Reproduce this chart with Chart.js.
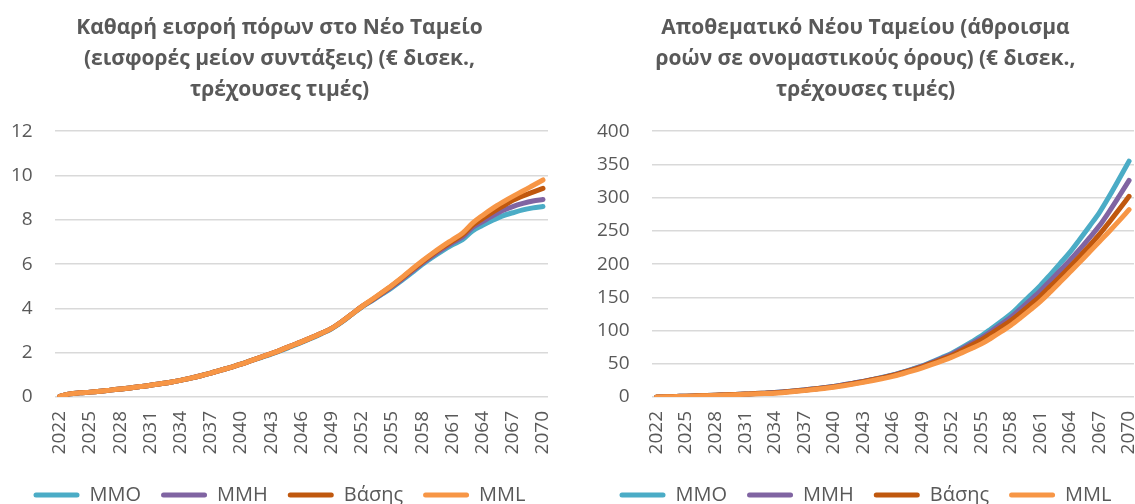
<!DOCTYPE html>
<html>
<head>
<meta charset="utf-8">
<script src="https://cdn.jsdelivr.net/npm/chart.js"></script>
<style>
  html, body { margin: 0; padding: 0; background: #fff; overflow: hidden; }
  body { width: 1135px; height: 504px; position: relative; }
  canvas { position: absolute; top: 0; }
  #left { left: 0; }
  #right { left: 586px; }
</style>
</head>
<body>
<canvas id="left" width="567" height="515"></canvas>
<canvas id="right" width="567" height="515"></canvas>
<script>
// years on the category axis
const years = ['2022','2023','2024','2025','2026','2027','2028','2029','2030','2031',
  '2032','2033','2034','2035','2036','2037','2038','2039','2040','2041',
  '2042','2043','2044','2045','2046','2047','2048','2049','2050','2051',
  '2052','2053','2054','2055','2056','2057','2058','2059','2060','2061',
  '2062','2063','2064','2065','2066','2067','2068','2069','2070'];

const seriesNames = ['MMO', 'MMH', 'Βάσης', 'MML'];

// left chart: net inflow (€ bn)
const inflowMMO = [0.03,0.14,0.19,0.22,0.26,0.31,0.36,0.41,0.47,0.53,
  0.60,0.67,0.75,0.85,0.96,1.08,1.21,1.34,1.48,1.64,
  1.78,1.93,2.10,2.28,2.46,2.65,2.86,3.08,3.38,3.72,
  4.06,4.34,4.64,4.94,5.27,5.62,5.98,6.30,6.60,6.87,
  7.10,7.50,7.75,7.98,8.18,8.32,8.45,8.54,8.60];
const inflowMMH = [0.03,0.14,0.19,0.22,0.26,0.31,0.36,0.41,0.47,0.53,
  0.60,0.67,0.75,0.85,0.96,1.08,1.21,1.34,1.48,1.64,
  1.80,1.96,2.13,2.31,2.49,2.68,2.88,3.10,3.40,3.74,
  4.08,4.36,4.67,4.98,5.32,5.68,6.04,6.37,6.68,6.96,
  7.22,7.65,7.92,8.18,8.42,8.60,8.74,8.85,8.92];
const inflowBase = [0.03,0.14,0.19,0.22,0.26,0.31,0.36,0.41,0.47,0.53,
  0.60,0.67,0.75,0.85,0.96,1.08,1.21,1.34,1.48,1.64,
  1.80,1.96,2.13,2.31,2.49,2.68,2.88,3.10,3.40,3.74,
  4.08,4.38,4.70,5.02,5.37,5.74,6.10,6.44,6.75,7.04,
  7.32,7.75,8.05,8.35,8.62,8.88,9.08,9.25,9.42];
const inflowMML = [0.03,0.14,0.19,0.22,0.26,0.31,0.36,0.41,0.47,0.53,
  0.60,0.67,0.75,0.85,0.96,1.08,1.21,1.34,1.48,1.64,
  1.80,1.96,2.13,2.31,2.49,2.68,2.88,3.10,3.40,3.74,
  4.08,4.40,4.72,5.05,5.40,5.78,6.14,6.48,6.80,7.10,
  7.40,7.85,8.20,8.52,8.80,9.06,9.30,9.55,9.80];

// right chart: reserve of the new fund (€ bn)
const reserveMMO = [0.1,0.5,0.9,1.3,1.8,2.3,2.8,3.3,3.9,4.5,
  5.1,5.8,6.6,7.8,9.1,10.5,12.2,14.0,16.0,18.4,
  20.9,23.5,26.5,29.7,33.1,37.4,42.0,47.0,53.0,59.3,
  66.0,74.3,83.0,92.0,102.8,113.8,125.0,139.0,153.3,168.0,
  184.3,201.0,218.0,237.5,257.5,278.0,302.5,328.5,355.0];
const reserveMMH = [0.1,0.5,0.9,1.3,1.8,2.3,2.8,3.3,3.9,4.5,
  5.1,5.8,6.6,7.8,9.1,10.5,12.2,14.0,16.0,18.4,
  20.9,23.5,26.4,29.5,32.9,37.1,41.6,46.4,52.2,58.2,
  64.5,72.4,80.6,89.0,99.0,109.3,120.0,133.0,146.3,160.0,
  175.0,190.3,206.0,222.5,240.0,258.0,279.5,302.5,326.0];
const reserveBase = [0.1,0.5,0.9,1.3,1.8,2.3,2.8,3.3,3.9,4.5,
  5.1,5.8,6.5,7.6,8.9,10.3,11.9,13.7,15.6,17.9,
  20.4,23.0,26.2,29.2,32.5,36.6,40.9,45.5,51.0,56.6,
  62.5,70.0,78.0,86.0,95.5,105.2,115.0,127.0,139.3,152.0,
  166.5,181.0,196.0,211.8,228.0,245.0,263.5,282.5,302.0];
const reserveMML = [0.0,0.3,0.7,1.1,1.5,2.0,2.5,3.0,3.5,4.1,
  4.6,5.1,5.7,6.9,8.2,9.6,11.2,12.9,14.8,17.0,
  19.4,22.0,24.8,27.8,31.0,35.0,39.3,44.0,49.0,54.3,
  60.0,66.4,73.0,80.0,88.8,98.2,108.0,119.5,131.5,144.0,
  158.2,173.0,188.0,203.0,218.5,234.0,249.5,265.5,282.0];

const leftTitle = ['Καθαρή εισροή πόρων στο Νέο Ταμείο', '(εισφορές μείον συντάξεις) (€ δισεκ.,', 'τρέχουσες τιμές)'];
const rightTitle = ['Αποθεματικό Νέου Ταμείου (άθροισμα', 'ροών σε ονομαστικούς όρους) (€ δισεκ.,', 'τρέχουσες τιμές)'];

const colors = ['#4BACC6', '#8064A2', '#C0580E', '#F79646'];
const grey = '#595959';
const font = 'Open Sans';

function makeChart(id, title, series, yMax, yStep) {
  const datasets = series.map((vals, i) => ({
    label: seriesNames[i],
    data: vals,
    borderColor: colors[i],
    backgroundColor: colors[i],
    borderWidth: 5,
    borderCapStyle: 'round',
    borderJoinStyle: 'round',
    pointRadius: 0,
    cubicInterpolationMode: 'monotone',
    order: series.length - i   // last series painted on top, like Excel
  }));

  return new Chart(document.getElementById(id), {
    type: 'line',
    data: { labels: years, datasets: datasets },
    options: {
      responsive: false,
      animation: false,
      layout: { padding: { left: 11, right: 19, top: 0, bottom: 0 } },
      plugins: {
        title: {
          display: true,
          text: title,
          color: grey,
          font: { family: font, size: 21, weight: 'bold', lineHeight: 1.48 },
          padding: { top: 12, bottom: 26 }
        },
        legend: {
          position: 'bottom',
          labels: {
            color: grey,
            font: { family: font, size: 20 },
            boxWidth: 46,
            boxHeight: 5,
            padding: 20,
            useBorderRadius: true,
            sort: (a, b) => a.datasetIndex - b.datasetIndex,
            generateLabels: (chart) => {
              const items = Chart.defaults.plugins.legend.labels.generateLabels(chart);
              items.forEach(it => {
                it.lineWidth = 0;
                it.fillStyle = it.strokeStyle;
                it.borderRadius = 2.5;
              });
              return items;
            }
          }
        },
        tooltip: { enabled: false }
      },
      scales: {
        x: {
          offset: true,
          grid: { display: false, drawTicks: false },
          border: { display: false },
          ticks: {
            autoSkip: false,
            minRotation: 90,
            maxRotation: 90,
            padding: 14,
            color: grey,
            font: { family: font, size: 19 },
            callback: (v, i) => (i % 3 === 0 ? years[i] : '')
          },
          afterFit: (s) => {
            s.height = 68;
            // rotated labels fit inside the plot width, no side margins
            s.paddingLeft = 0;
            s.paddingRight = 0;
          }
        },
        y: {
          min: 0,
          max: yMax,
          grid: { color: '#D9D9D9', lineWidth: 1.5, drawTicks: false },
          border: { display: false },
          ticks: {
            stepSize: yStep,
            padding: 22,
            color: grey,
            font: { family: font, size: 19 }
          },
          // padding gets counted twice in the width, take one back
          afterFit: (s) => { s.width -= 22; }
        }
      }
    }
  });
}

makeChart('left', leftTitle, [inflowMMO, inflowMMH, inflowBase, inflowMML], 12, 2);
makeChart('right', rightTitle, [reserveMMO, reserveMMH, reserveBase, reserveMML], 400, 50);
</script>
</body>
</html>
